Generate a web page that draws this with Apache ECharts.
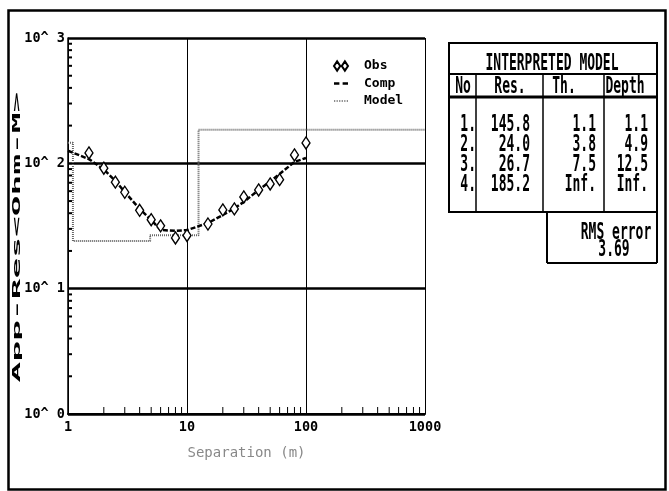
<!DOCTYPE html>
<html>
<head>
<meta charset="utf-8">
<script src="https://cdn.jsdelivr.net/npm/echarts@6/dist/echarts.min.js"></script>
<style>
  html, body { margin: 0; padding: 0; background: #fff; }
  #chart { width: 669px; height: 491px; }
</style>
</head>
<body>
<div id="chart"></div>
<script>
// observed sounding (AB/2 in m, apparent resistivity in ohm-m)
const obsSep = [1.5, 2, 2.5, 3, 4, 5, 6, 8, 10, 15, 20, 25, 30, 40, 50, 60, 80, 100];
const obsRes = [121, 91.4, 70.8, 58.8, 42.2, 35.5, 31.7, 25.4, 26.6, 32.8, 42.5, 43.3, 53.9, 61.3, 68.5, 74.1, 116.7, 145.5];

// computed curve of the interpreted model
const compSep = [1, 1.5, 2, 2.5, 3, 4, 5, 6, 8, 10, 15, 20, 25, 30, 40, 50, 60, 80, 100];
const compRes = [126, 108, 89.4, 72.4, 59.1, 43.2, 35.4, 29.4, 28.9, 29.3, 33.4, 38.7, 43.8, 49.2, 61.3, 71.7, 82.3, 102.6, 110.4];

// interpreted layers
const layerRes = [145.8, 24.0, 26.7, 185.2];
const layerTh = [1.1, 3.8, 7.5];
const layerDepth = [1.1, 4.9, 12.5];
const rmsError = 3.69;

// minor ticks of both log axes
const minorTicks = [2, 3, 4, 5, 6, 7, 8, 9, 20, 30, 40, 50, 60, 70, 80, 90, 200, 300, 400, 500, 600, 700, 800, 900];

const mono = '"DejaVu Sans Mono", "Liberation Mono", monospace';

// model as a step line: each layer's resistivity down to its depth
const modelPts = [[1, layerRes[0]]];
layerDepth.forEach((d, i) => modelPts.push([d, layerRes[i + 1]]));
modelPts.push([1000, layerRes[layerRes.length - 1]]);

function tallText(text, x, y, align) {
    return {
        type: 'text', x: x, y: y, scaleY: 1.75, z: 10,
        style: {
            text: text, fill: '#000', fontFamily: mono, fontWeight: 'bold', fontSize: 13,
            align: align || 'center', verticalAlign: 'middle'
        }
    };
}
function hline(x1, x2, y, w) {
    return { type: 'line', z: 10, shape: { x1: x1, y1: y, x2: x2, y2: y }, style: { stroke: '#000', lineWidth: w } };
}
function vline(x, y1, y2, w) {
    return { type: 'line', z: 10, shape: { x1: x, y1: y1, x2: x, y2: y2 }, style: { stroke: '#000', lineWidth: w } };
}

const rowY = [125, 145, 165, 185];
const table = [
    { type: 'rect', z: 10, shape: { x: 8.5, y: 10.5, width: 657, height: 479 }, style: { fill: 'none', stroke: '#000', lineWidth: 2.5 } },
    { type: 'rect', z: 10, shape: { x: 449, y: 43, width: 208, height: 169 }, style: { fill: 'none', stroke: '#000', lineWidth: 2 } },
    hline(449, 657, 74, 2),
    hline(449, 657, 97, 3),
    vline(476, 74, 212, 1.5),
    vline(543, 74, 212, 1.5),
    vline(604, 74, 212, 1.5),
    vline(547, 212, 263, 2),
    vline(657, 212, 263, 2),
    hline(547, 657, 263, 2),
    tallText('INTERPRETED MODEL', 552, 64),
    tallText('No', 463, 87),
    tallText('Res.', 510, 87),
    tallText('Th.', 564, 87),
    tallText('Depth', 625, 87),
    tallText('RMS error', 616, 233),
    tallText(rmsError.toFixed(2), 614, 250),
    {
        type: 'text', x: 17, y: 237, rotation: Math.PI / 2, scaleX: 3.45,
        style: {
            text: 'App-Res<Ohm-M>', fill: '#000', fontFamily: mono, fontWeight: 'bold', fontSize: 10,
            align: 'center', verticalAlign: 'middle'
        }
    }
];
layerRes.forEach((r, i) => {
    table.push(tallText((i + 1) + '.', 476, rowY[i], 'right'));
    table.push(tallText(r.toFixed(1), 530, rowY[i], 'right'));
    table.push(tallText(i < layerTh.length ? layerTh[i].toFixed(1) : 'Inf.', 596, rowY[i], 'right'));
    table.push(tallText(i < layerDepth.length ? layerDepth[i].toFixed(1) : 'Inf.', 648, rowY[i], 'right'));
});

const myChart = echarts.init(document.getElementById('chart'));
myChart.setOption({
    animation: false,
    backgroundColor: '#fff',
    grid: { left: 68, top: 38, right: 244, bottom: 77, outerBoundsMode: 'none' },
    legend: {
        orient: 'vertical', left: 333, top: 59, padding: 0,
        itemWidth: 14, itemHeight: 10, itemGap: 3.5, selectedMode: false,
        textStyle: { fontFamily: mono, fontWeight: 'bold', fontSize: 13, lineHeight: 14, color: '#000', padding: [0, 0, 0, 11] },
        data: [
            { name: 'Obs', icon: 'path://M4,0L8,6L4,12L0,6Z M14,0L18,6L14,12L10,6Z' },
            { name: 'Comp', icon: 'path://M0,0H5V2.5H0Z M8,0H13V2.5H8Z' },
            { name: 'Model', icon: 'path://M0,0H1.2V1.6H0Z M2.4,0H3.6V1.6H2.4Z M4.8,0H6V1.6H4.8Z M7.2,0H8.4V1.6H7.2Z M9.6,0H10.8V1.6H9.6Z M12,0H13.2V1.6H12Z' }
        ]
    },
    xAxis: {
        type: 'log', logBase: 10, min: 1, max: 1000,
        name: 'Separation (m)', nameLocation: 'middle', nameGap: 32,
        nameTextStyle: { color: '#888', fontFamily: mono, fontSize: 14 },
        axisLine: { lineStyle: { color: '#000', width: 2 } },
        axisTick: { show: false },
        axisLabel: {
            color: '#000', fontFamily: mono, fontWeight: 'bold', fontSize: 13.5, margin: 6,
            showMinLabel: true, showMaxLabel: true,
            formatter: v => String(Math.round(v))
        },
        splitLine: { show: true, lineStyle: { color: '#000', width: 1 } }
    },
    yAxis: {
        type: 'log', logBase: 10, min: 1, max: 1000,
        axisLine: { lineStyle: { color: '#000', width: 1.5 } },
        axisTick: { show: false },
        axisLabel: {
            color: '#000', fontFamily: mono, fontWeight: 'bold', fontSize: 13.5, margin: 3,
            showMinLabel: true, showMaxLabel: true,
            formatter: v => '10^ ' + Math.round(Math.log10(v))
        },
        splitLine: { show: true, lineStyle: { color: '#000', width: 2.5 } }
    },
    series: [
        {
            name: 'Model', type: 'line', step: 'end', z: 2,
            symbol: 'none', silent: true,
            itemStyle: { color: '#666', borderWidth: 0 },
            lineStyle: { color: '#666', width: 2, type: [1, 1] },
            data: modelPts
        },
        {
            name: 'Comp', type: 'line', z: 3,
            symbol: 'none', silent: true,
            itemStyle: { color: '#000', borderWidth: 0 },
            lineStyle: { color: '#000', width: 2.5, type: [5, 2] },
            data: compSep.map((x, i) => [x, compRes[i]])
        },
        {
            name: 'Obs', type: 'scatter', z: 4,
            symbol: 'diamond', symbolSize: [8, 12], silent: true,
            itemStyle: { color: '#fff', borderColor: '#000', borderWidth: 1.4, opacity: 1 },
            data: obsSep.map((x, i) => [x, obsRes[i]])
        },
        {
            name: 'xMinor', type: 'custom', z: 5, silent: true,
            renderItem: (params, api) => {
                const p = api.coord([api.value(0), 1]);
                return { type: 'line', shape: { x1: p[0], y1: p[1], x2: p[0], y2: p[1] - 7 }, style: { stroke: '#000', lineWidth: 1 } };
            },
            data: minorTicks.map(v => [v, 1])
        },
        {
            name: 'yMinor', type: 'custom', z: 5, silent: true,
            renderItem: (params, api) => {
                const p = api.coord([1, api.value(1)]);
                return { type: 'line', shape: { x1: p[0], y1: p[1], x2: p[0] + 4, y2: p[1] }, style: { stroke: '#000', lineWidth: 2 } };
            },
            data: minorTicks.map(v => [1, v])
        }
    ],
    graphic: table
});
</script>
</body>
</html>
